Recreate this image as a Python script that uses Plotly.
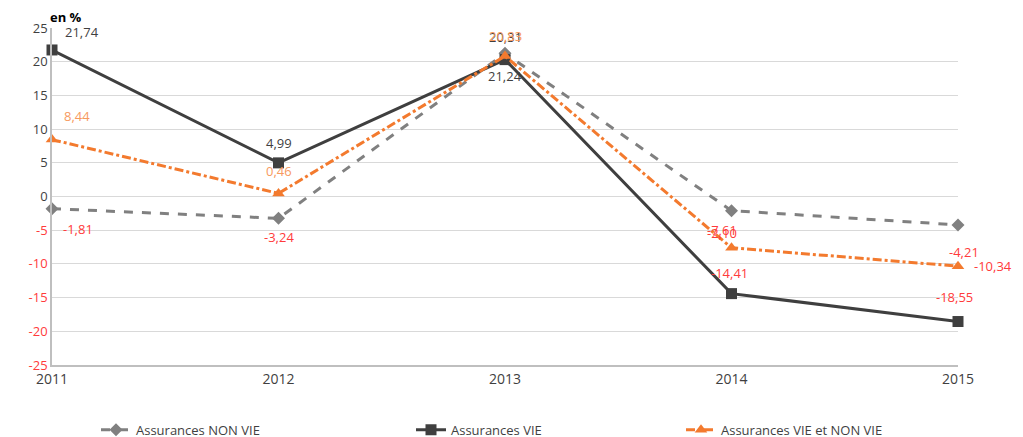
import plotly.graph_objects as go

years = [2011, 2012, 2013, 2014, 2015]
non_vie = [-1.81, -3.24, 21.24, -2.10, -4.21]
vie = [21.74, 4.99, 20.31, -14.41, -18.55]
vie_et_non_vie = [8.44, 0.46, 20.83, -7.61, -10.34]
y_ticks = [25, 20, 15, 10, 5, 0, -5, -10, -15, -20, -25]

# label offsets in px (xshift, yshift) per point
off_non_vie = [(26, -20), (0, -19), (0, -23), (-10, -22), (6, -27)]
off_vie = [(30, 18), (0, 20), (0, 23), (-2, 21), (-4, 25)]
off_mix = [(25, 24), (0, 22), (0, 20), (-10, 18), (35, 0)]

font = "Open Sans"
red = "#FF3B3B"

def fmt(v):
    return f"{v:.2f}".replace(".", ",")

fig = go.Figure()
fig.add_trace(go.Scatter(
    x=years, y=non_vie, name="Assurances NON VIE", mode="lines+markers", legend="legend",
    line=dict(color="#808080", width=3, dash="dash"),
    marker=dict(symbol="diamond", size=10, color="#808080"), cliponaxis=False))
fig.add_trace(go.Scatter(
    x=years, y=vie, name="Assurances VIE", mode="lines+markers", legend="legend2",
    line=dict(color="#3F3F3F", width=3),
    marker=dict(symbol="square", size=11, color="#3F3F3F"), cliponaxis=False))
fig.add_trace(go.Scatter(
    x=years, y=vie_et_non_vie, name="Assurances VIE et NON VIE", mode="lines+markers",
    legend="legend3",
    line=dict(color="#F37A2E", width=3, dash="dashdot"),
    marker=dict(symbol="triangle-up", size=11, color="#F37A2E"), cliponaxis=False))

for vals, offs, pos_col in [(non_vie, off_non_vie, "#3F3F3F"),
                            (vie, off_vie, "#3F3F3F"),
                            (vie_et_non_vie, off_mix, "#F79A5E")]:
    for x, v, (dx, dy) in zip(years, vals, offs):
        fig.add_annotation(x=x, y=v, text=fmt(v), showarrow=False,
                           xshift=dx, yshift=dy,
                           font=dict(family=font, size=13, color=pos_col if v >= 0 else red))

fig.add_annotation(xref="paper", yref="paper", x=0.0, y=1.0, yshift=11, xshift=-4,
                   xanchor="left", yanchor="middle", text="<b>en %</b>", showarrow=False,
                   font=dict(family=font, size=13, color="#000000"))

tick_text = [str(t) if t >= 0 else f'<span style="color:{red}">{t}</span>' for t in y_ticks]

leg = dict(orientation="h", xanchor="left", xref="container", y=0.035,
           yanchor="middle", yref="container",
           font=dict(family=font, size=13, color="#3F3F3F"))

fig.update_layout(
    width=1023, height=437,
    margin=dict(l=44, r=73, t=20, b=80, autoexpand=False),
    paper_bgcolor="white", plot_bgcolor="white",
    font=dict(family=font, size=13, color="#3F3F3F"),
    xaxis=dict(range=[2011, 2015], tickvals=years, showgrid=False, zeroline=False,
               showline=True, linecolor="#BFBFBF", linewidth=1.5, ticks="",
               automargin=False, tickfont=dict(size=14, color="#3F3F3F")),
    yaxis=dict(range=[-25, 25], tickvals=y_ticks, ticktext=tick_text,
               showgrid=True, gridcolor="#D9D9D9", gridwidth=1, zeroline=False,
               showline=True, linecolor="#BFBFBF", linewidth=1.5, ticks="",
               automargin=False, tickfont=dict(size=13, color="#3F3F3F")),
    legend=dict(leg, x=88 / 1023),
    legend2=dict(leg, x=403 / 1023),
    legend3=dict(leg, x=673 / 1023),
    showlegend=True,
)

fig.write_html("out.html")
